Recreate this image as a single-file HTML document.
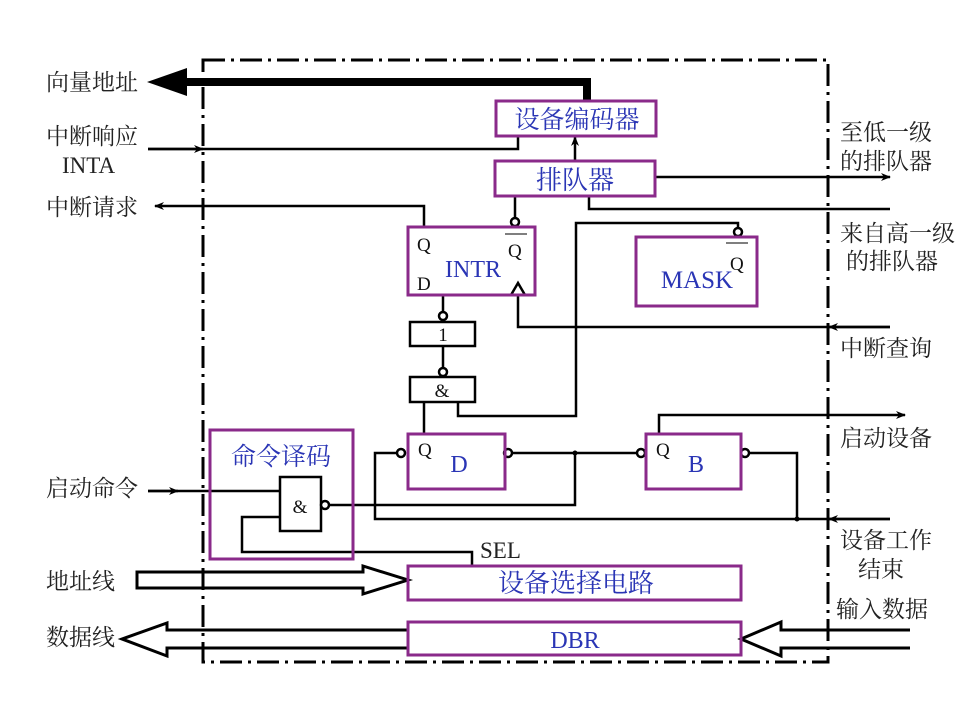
<!DOCTYPE html>
<html><head><meta charset="utf-8"><style>
html,body{margin:0;padding:0;background:#fff;}
svg{display:block}
.l{font-family:"Liberation Serif","Noto Serif CJK SC","Noto Sans CJK SC",serif;font-size:23px;fill:#222}
.b{font-family:"Liberation Serif","Noto Serif CJK SC","Noto Sans CJK SC",serif;fill:#2a35b5}
.q{font-family:"Liberation Serif",serif;font-size:19px;fill:#111}
</style></head><body>
<svg width="978" height="707" viewBox="0 0 978 707" xmlns="http://www.w3.org/2000/svg">
<defs>
<marker id="a" markerWidth="10" markerHeight="8" refX="9" refY="4" orient="auto" markerUnits="userSpaceOnUse"><path d="M0,0 L10,4 L0,8 L3,4z" fill="#000"/></marker>
</defs>
<rect x="203" y="60" width="625" height="602" fill="none" stroke="#000" stroke-width="3" stroke-dasharray="22,6,3,6"/>
<g fill="none" stroke="#000" stroke-width="2.5">
<path d="M587,101 V82 H180" stroke-width="8"/>
</g>
<path d="M147,82 L187,68 L187,96z" fill="#000"/>
<g fill="none" stroke="#000" stroke-width="2.5">
<path d="M148,149 H518 V136"/>
<path d="M148,149 H203" marker-end="url(#a)"/>
<path d="M575,161 V137" marker-end="url(#a)"/>
<path d="M655,177 H890" marker-end="url(#a)"/>
<path d="M589,196 V209 H890"/>
<path d="M424,227 V206 H155" marker-end="url(#a)"/>
<path d="M515,218 V196"/>
<path d="M738,228 V223 H576 V416 H458 V402"/>
<path d="M890,327 H518 V296"/>
<path d="M890,327 H829" marker-end="url(#a)"/>
<path d="M443,295 V312"/>
<path d="M443,346 V368"/>
<path d="M424,402 V434"/>
<path d="M512,453 H637"/>
<path d="M575,453 V505 H330"/>
<path d="M397,453 H375 V519 H890"/>
<path d="M890,519 H829" marker-end="url(#a)"/>
<path d="M749,453 H797 V519"/>
<path d="M659,434 V415 H905" marker-end="url(#a)"/>
<path d="M148,491 H280"/>
<path d="M148,491 H178" marker-end="url(#a)"/>
<path d="M280,517 H242 V552 H472 V566"/>
<path d="M137,572 H363 V566 L408,580 L363,594 V588 H137 Z" stroke-width="3"/>
<path d="M408,630 H167 V623 L122,639 L167,656 V648 H408" stroke-width="3"/>
<path d="M910,630 H781 V622 L741,639 L781,656 V648 H910" stroke-width="3"/>
<rect x="410" y="322" width="65" height="24"/>
<rect x="410" y="377" width="65" height="25"/>
<rect x="280" y="477" width="41" height="54"/>
<circle cx="443" cy="316" r="4" fill="#fff"/>
<circle cx="443" cy="372" r="4" fill="#fff"/>
<circle cx="515" cy="222" r="4" fill="#fff"/>
<circle cx="738" cy="232" r="4" fill="#fff"/>
<circle cx="401" cy="453" r="4" fill="#fff"/>
<circle cx="508" cy="453" r="4" fill="#fff"/>
<circle cx="641" cy="453" r="4" fill="#fff"/>
<circle cx="745" cy="453" r="4" fill="#fff"/>
<circle cx="325" cy="505" r="4" fill="#fff"/>
<path d="M518,283 L511,295 L525,295z" stroke-width="2.5" fill="#fff"/>
</g>
<circle cx="575" cy="453" r="2.5" fill="#000"/>
<circle cx="797" cy="519" r="2.5" fill="#000"/>
<g fill="none" stroke="#8a2a8a" stroke-width="3">
<rect x="496" y="101" width="160" height="35"/>
<rect x="495" y="161" width="160" height="35"/>
<rect x="408" y="227" width="127" height="68"/>
<rect x="636" y="237" width="121" height="69"/>
<rect x="408" y="434" width="97" height="55"/>
<rect x="646" y="434" width="95" height="55"/>
<rect x="210" y="430" width="143" height="129"/>
<rect x="408" y="566" width="333" height="34"/>
<rect x="408" y="622" width="333" height="33"/>
</g>
<text class="b" x="577" y="128" font-size="25" text-anchor="middle">设备编码器</text>
<text class="b" x="575" y="189" font-size="26" text-anchor="middle">排队器</text>
<text class="b" x="473" y="277" font-size="24" text-anchor="middle">INTR</text>
<text class="b" x="697" y="288" font-size="25" text-anchor="middle">MASK</text>
<text class="b" x="459" y="472" font-size="24" text-anchor="middle">D</text>
<text class="b" x="696" y="472" font-size="24" text-anchor="middle">B</text>
<text class="b" x="281" y="465" font-size="25" text-anchor="middle">命令译码</text>
<text class="b" x="576" y="592" font-size="26" text-anchor="middle">设备选择电路</text>
<text class="b" x="575" y="648" font-size="24" text-anchor="middle">DBR</text>
<text class="q" x="443" y="341" text-anchor="middle">1</text>
<text class="q" x="442" y="397" text-anchor="middle" font-size="20">&amp;</text>
<text class="q" x="300" y="513" text-anchor="middle" font-size="24">&amp;</text>
<text class="q" x="417" y="251">Q</text>
<text class="q" x="417" y="290">D</text>
<text class="q" x="508" y="257">Q</text>
<path d="M505,234 H527" stroke="#333" stroke-width="1.2"/>
<text class="q" x="730" y="270">Q</text>
<path d="M726,243 H748" stroke="#333" stroke-width="1.2"/>
<text class="q" x="418" y="456">Q</text>
<text class="q" x="656" y="456">Q</text>
<text class="l" x="480" y="558" font-size="21">SEL</text>
<text class="l" x="46" y="90">向量地址</text>
<text class="l" x="46" y="144">中断响应</text>
<text class="l" x="62" y="173" font-size="22">INTA</text>
<text class="l" x="46" y="215">中断请求</text>
<text class="l" x="46" y="496">启动命令</text>
<text class="l" x="46" y="589">地址线</text>
<text class="l" x="46" y="645">数据线</text>
<text class="l" x="840" y="140">至低一级</text>
<text class="l" x="840" y="169">的排队器</text>
<text class="l" x="840" y="241">来自高一级</text>
<text class="l" x="846" y="269">的排队器</text>
<text class="l" x="840" y="356">中断查询</text>
<text class="l" x="840" y="446">启动设备</text>
<text class="l" x="840" y="548">设备工作</text>
<text class="l" x="858" y="577">结束</text>
<text class="l" x="836" y="617">输入数据</text>
</svg>
</body></html>
